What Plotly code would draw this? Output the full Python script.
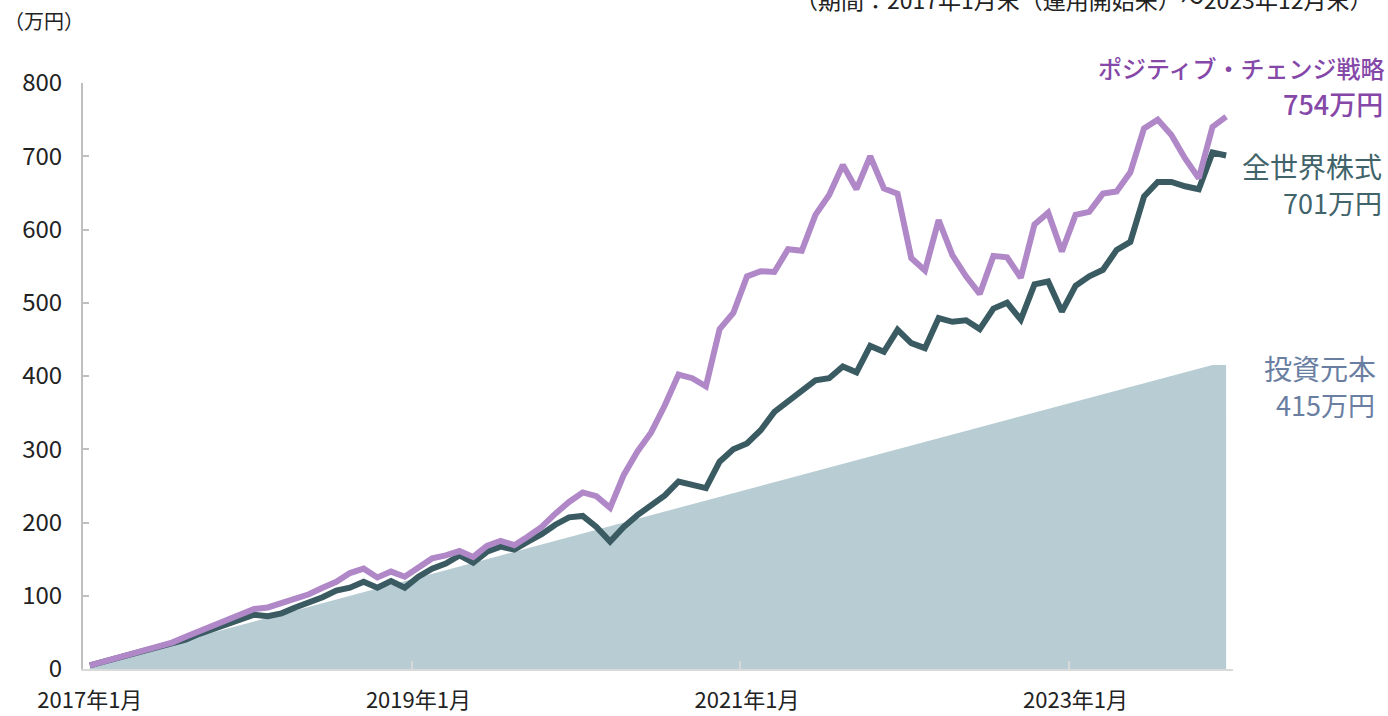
import plotly.graph_objects as go

months = [f"{y}年{m}月" for y in range(2017, 2024) for m in range(1, 13)]

world_equity = [5, 10, 15, 20, 25, 30, 35, 40, 48, 55, 62, 68, 74, 72, 76, 84, 90, 98, 107, 111,
                119, 111, 120, 111, 126, 137, 144, 155, 145, 160, 167, 163, 174, 184, 197, 207, 209, 194, 174, 194,
                210, 224, 237, 256, 251, 247, 283, 300, 308, 326, 351, 365, 379, 394, 397, 413, 405, 441, 433, 463,
                445, 438, 479, 474, 476, 464, 492, 500, 477, 525, 529, 488, 523, 536, 545, 572, 583, 645, 665, 665,
                659, 655, 705, 701]

positive_change = [5, 10, 15, 20, 25, 30, 36, 44, 52, 60, 67, 75, 82, 84, 90, 95, 102, 111, 119, 131,
                   137, 125, 133, 126, 138, 151, 155, 161, 153, 168, 175, 169, 181, 194, 212, 228, 241, 236, 220, 265,
                   297, 323, 360, 402, 397, 386, 464, 486, 536, 543, 542, 573, 571, 620, 647, 688, 655, 700, 656, 649,
                   561, 544, 613, 565, 536, 512, 564, 562, 534, 607, 623, 570, 620, 624, 649, 652, 678, 738, 750, 729,
                   697, 670, 740, 754]

principal = [5, 10, 15, 20, 25, 30, 35, 40, 45, 50, 55, 60, 65, 70, 75, 80, 85, 90, 95, 100,
             105, 110, 115, 120, 125, 130, 135, 140, 145, 150, 155, 160, 165, 170, 175, 180, 185, 190, 195, 200,
             205, 210, 215, 220, 225, 230, 235, 240, 245, 250, 255, 260, 265, 270, 275, 280, 285, 290, 295, 300,
             305, 310, 315, 320, 325, 330, 335, 340, 345, 350, 355, 360, 365, 370, 375, 380, 385, 390, 395, 400,
             405, 410, 415, 415]

y_ticks = [0, 100, 200, 300, 400, 500, 600, 700, 800]

FONT = "Noto Sans CJK JP"
C_AREA = "#B7CDD3"
C_WORLD = "#3B5B62"
C_PC = "#B088C8"
C_PC_TXT = "#8548A8"
C_WORLD_TXT = "#41636A"
C_PRIN_TXT = "#6A7EA2"

fig = go.Figure()
fig.add_trace(go.Scatter(x=months, y=principal, mode="lines", fill="tozeroy",
                         fillcolor=C_AREA, line=dict(width=0, color=C_AREA),
                         hoverinfo="skip", showlegend=False))
fig.add_trace(go.Scatter(x=months, y=world_equity, mode="lines",
                         line=dict(color=C_WORLD, width=6), showlegend=False))
fig.add_trace(go.Scatter(x=months, y=positive_change, mode="lines",
                         line=dict(color=C_PC, width=6), showlegend=False))

L, R, T, B = 83, 1233, 83, 669
W, H = 1388, 716


def px(x):
    return (x - L) / (R - L)


def py(y):
    return (B - y) / (B - T)


annotations = [
    dict(text="（万円）", x=px(2), y=py(21), xanchor="left", yanchor="middle",
         font=dict(size=20, color="#222222")),
    dict(text="（期間：2017年1月末（運用開始来）～2023年12月末）", x=px(793), y=py(-1),
         xanchor="left", yanchor="middle", font=dict(size=23, color="#222222")),
    dict(text="ポジティブ・チェンジ戦略", x=px(1387), y=py(68),
         xanchor="right", yanchor="middle", align="right",
         font=dict(size=24, color=C_PC_TXT, weight=500)),
    dict(text="754万円", x=px(1385), y=py(104),
         xanchor="right", yanchor="middle", align="right",
         font=dict(size=27, color=C_PC_TXT, weight=500)),
    dict(text="全世界株式", x=px(1384), y=py(166),
         xanchor="right", yanchor="middle", align="right",
         font=dict(size=28, color=C_WORLD_TXT)),
    dict(text="701万円", x=px(1384), y=py(202),
         xanchor="right", yanchor="middle", align="right",
         font=dict(size=27, color=C_WORLD_TXT)),
    dict(text="投資元本", x=px(1378), y=py(368),
         xanchor="right", yanchor="middle", align="right",
         font=dict(size=28, color=C_PRIN_TXT)),
    dict(text="415万円", x=px(1377), y=py(404),
         xanchor="right", yanchor="middle", align="right",
         font=dict(size=27, color=C_PRIN_TXT)),
]
for a in annotations:
    a.update(xref="paper", yref="paper", showarrow=False)
    a["font"]["family"] = FONT

fig.update_layout(
    width=W, height=H,
    margin=dict(l=L, r=W - R, t=T, b=H - B, pad=0, autoexpand=False),
    paper_bgcolor="white", plot_bgcolor="white",
    font=dict(family=FONT, size=24, color="#222222"),
    annotations=annotations,
    xaxis=dict(type="category", range=[-0.5, len(months) - 0.5], dtick=24,
               tickson="boundaries", ticks="inside", ticklen=8, tickwidth=1.5,
               tickcolor="#D9D9D9", showline=True, linecolor="#D9D9D9", linewidth=2,
               showgrid=False, zeroline=False, ticklabelstandoff=11, tickangle=0,
               automargin=False,
               tickfont=dict(size=22, family=FONT, color="#222222")),
    yaxis=dict(range=[0, 800], tickvals=y_ticks, ticks="inside", ticklen=6, tickwidth=2,
               tickcolor="#BFBFBF", showline=True, linecolor="#BFBFBF", linewidth=2,
               showgrid=False, zeroline=False, ticklabelstandoff=14, automargin=False,
               tickfont=dict(size=24, family=FONT, color="#222222")),
)

fig.write_html("out.html", config={"displayModeBar": False},
               post_script="document.body.style.margin='0';document.body.style.overflow='hidden';")
